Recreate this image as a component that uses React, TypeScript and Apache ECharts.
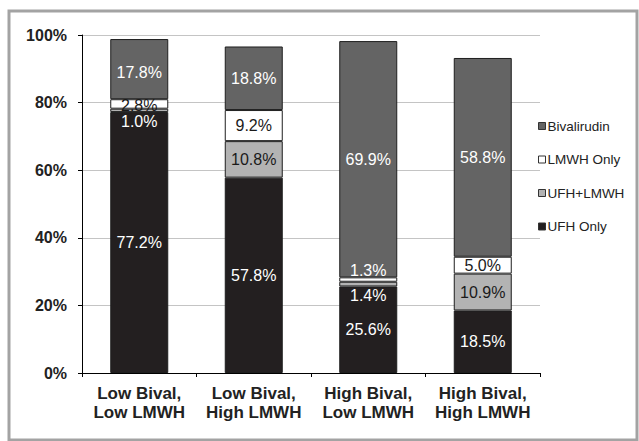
import React, { useEffect, useRef } from "react";
import * as echarts from "echarts";

const categories = ["Low Bival,\nLow LMWH", "Low Bival,\nHigh LMWH", "High Bival,\nLow LMWH", "High Bival,\nHigh LMWH"];
const ufhOnly = [77.2, 57.8, 25.6, 18.5];
const ufhLmwh = [1.0, 10.8, 1.4, 10.9];
const lmwhOnly = [2.8, 9.2, 1.3, 5.0];
const bivalirudin = [17.8, 18.8, 69.9, 58.8];
const yTicks = [0, 20, 40, 60, 80, 100];

const FONT = "'Liberation Sans', Arial, sans-serif";

// label tweaks for thin segments: [seriesName][index] -> { offset, color }
const labelTweaks: Record<string, Record<number, { offset: number[]; color?: string }>> = {
  "UFH+LMWH": { 0: { offset: [0, 11], color: "#ffffff" }, 2: { offset: [0, 11], color: "#ffffff" } },
  "LMWH Only": { 0: { offset: [0, 2] }, 2: { offset: [0, -9], color: "#ffffff" } },
  Bivalirudin: { 0: { offset: [0, 3] } },
};

function build(name: string, values: number[], color: string, labelColor: string) {
  return {
    name,
    type: "bar",
    stack: "total",
    barWidth: 58,
    itemStyle: { color, borderColor: "#1e1e1e", borderWidth: 1 },
    label: {
      show: true,
      position: "inside",
      color: labelColor,
      fontFamily: FONT,
      fontSize: 16,
      formatter: (p: any) => p.value.toFixed(1) + "%",
    },
    data: values.map((v, i) => {
      const t = labelTweaks[name] && labelTweaks[name][i];
      if (!t) return v;
      return { value: v, label: { offset: t.offset, color: t.color || labelColor } };
    }),
  };
}

export default function App() {
  const ref = useRef<HTMLDivElement>(null);
  useEffect(() => {
    if (!ref.current) return;
    const chart = echarts.init(ref.current, undefined, { renderer: "svg" });
    chart.setOption({
      animation: false,
      backgroundColor: "#ffffff",
      graphic: [
        {
          type: "rect",
          shape: { x: 9, y: 11, width: 628, height: 429 },
          style: { fill: "none", stroke: "#a3a3a3", lineWidth: 3 },
          z: -1,
        },
      ],
      grid: { left: 82, right: 99, top: 35, bottom: 68, containLabel: false },
      legend: {
        orient: "vertical",
        left: 533,
        top: 114,
        itemWidth: 7,
        itemHeight: 7,
        itemGap: 19.5,
        icon: "rect",
        data: ["Bivalirudin", "LMWH Only", "UFH+LMWH", "UFH Only"],
        textStyle: { fontFamily: FONT, fontSize: 13.5, color: "#222", lineHeight: 14, padding: [0, 0, 0, -3] },
        itemStyle: { borderColor: "#333", borderWidth: 1 },
      },
      xAxis: {
        type: "category",
        data: categories,
        axisLine: { lineStyle: { color: "#000", width: 1 } },
        axisTick: { show: true, length: 4, interval: 0, lineStyle: { color: "#000" } },
        axisLabel: {
          interval: 0,
          margin: 11,
          fontFamily: FONT,
          fontWeight: "bold",
          fontSize: 17,
          lineHeight: 19,
          color: "#222",
        },
      },
      yAxis: {
        type: "value",
        min: yTicks[0],
        max: yTicks[yTicks.length - 1],
        interval: 20,
        axisLine: { show: true, lineStyle: { color: "#000", width: 1 } },
        axisTick: { show: true, length: 4, lineStyle: { color: "#000" } },
        splitLine: { lineStyle: { color: "#c4c4c4", width: 1 } },
        axisLabel: {
          margin: 15,
          fontFamily: FONT,
          fontWeight: "bold",
          fontSize: 16,
          color: "#222",
          formatter: "{value}%",
        },
      },
      series: [
        build("UFH Only", ufhOnly, "#231f20", "#ffffff"),
        build("UFH+LMWH", ufhLmwh, "#b3b3b3", "#1a1a1a"),
        build("LMWH Only", lmwhOnly, "#ffffff", "#1a1a1a"),
        build("Bivalirudin", bivalirudin, "#646464", "#ffffff"),
      ],
    });
    return () => chart.dispose();
  }, []);
  return <div ref={ref} style={{ position: "fixed", left: 0, top: 0, width: 639, height: 441 }} />;
}
